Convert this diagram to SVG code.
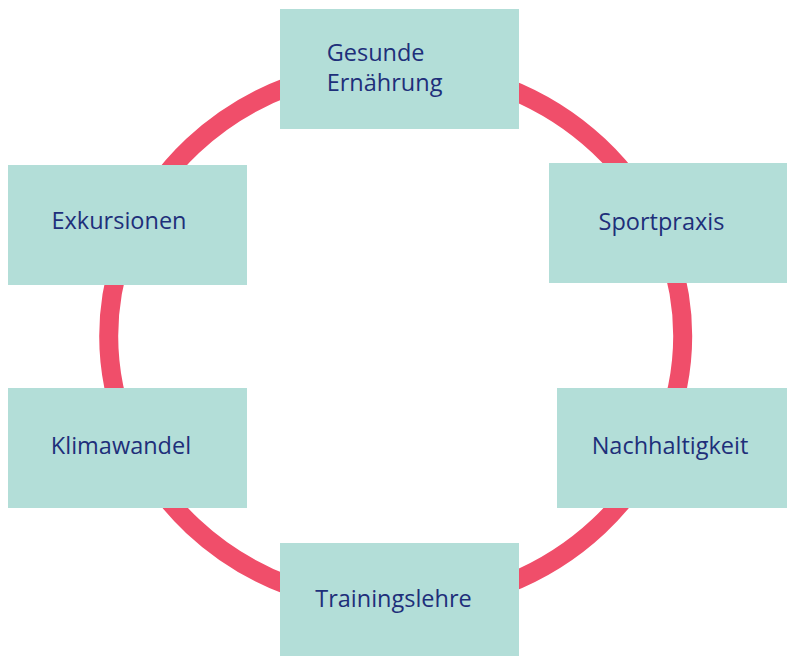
<svg xmlns="http://www.w3.org/2000/svg" width="787" height="656" viewBox="0 0 787 656">
<style>
.box{fill:#B3DED8;}
.lbl{font-family:"Open Sans","Noto Sans","Liberation Sans",sans-serif;font-size:23.5px;fill:#1E2F7A;}
.mid{text-anchor:middle;}
.ring{fill:none;stroke:#F04E6A;stroke-width:19;}
</style>
<rect width="787" height="656" fill="#FFFFFF"/>
<g id="connectors">
<ellipse class="ring" cx="395.7" cy="336" rx="287" ry="269"/>
</g>
<g id="node-gesunde-ernaehrung">
<rect class="box" x="280" y="9" width="239" height="120"/>
<text class="lbl" x="326.7" y="61">Gesunde</text>
<text class="lbl" x="326.7" y="90.5">Ernährung</text>
</g>
<g id="node-exkursionen">
<rect class="box" x="8" y="165" width="239" height="120"/>
<text class="lbl mid" x="119" y="229">Exkursionen</text>
</g>
<g id="node-sportpraxis">
<rect class="box" x="549" y="163" width="239" height="120"/>
<text class="lbl mid" x="661.5" y="230">Sportpraxis</text>
</g>
<g id="node-klimawandel">
<rect class="box" x="8" y="388" width="239" height="120"/>
<text class="lbl mid" x="121" y="454">Klimawandel</text>
</g>
<g id="node-nachhaltigkeit">
<rect class="box" x="557" y="388" width="239" height="120"/>
<text class="lbl mid" x="670" y="454">Nachhaltigkeit</text>
</g>
<g id="node-trainingslehre">
<rect class="box" x="280" y="543" width="239" height="120"/>
<text class="lbl mid" x="393.5" y="607">Trainingslehre</text>
</g>
</svg>
